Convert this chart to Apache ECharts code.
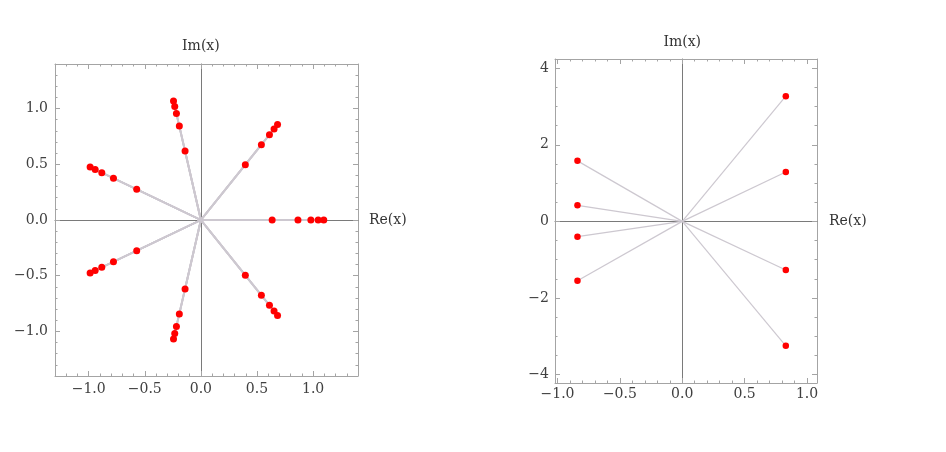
<!DOCTYPE html>
<html>
<head>
<meta charset="utf-8">
<script src="https://cdn.jsdelivr.net/npm/echarts@6/dist/echarts.min.js"></script>
<style>
  html, body { margin: 0; padding: 0; background: #ffffff; }
  #chart { width: 946px; height: 452px; }
</style>
</head>
<body>
<div id="chart"></div>
<script>
// ---- Data ----
// Left panel: 7 rays, 5 points each (complex numbers Re, Im)
const leftRe = [
  0.635, 0.865, 0.98, 1.045, 1.095,
  0.396, 0.539, 0.611, 0.652, 0.683,
  -0.141, -0.192, -0.218, -0.233, -0.244,
  -0.572, -0.779, -0.883, -0.942, -0.987,
  -0.572, -0.779, -0.883, -0.942, -0.987,
  -0.141, -0.192, -0.218, -0.233, -0.244,
  0.396, 0.539, 0.611, 0.652, 0.683
];
const leftIm = [
  0, 0, 0, 0, 0,
  0.496, 0.676, 0.766, 0.817, 0.856,
  0.619, 0.843, 0.955, 1.019, 1.068,
  0.276, 0.375, 0.425, 0.453, 0.475,
  -0.276, -0.375, -0.425, -0.453, -0.475,
  -0.619, -0.843, -0.955, -1.019, -1.068,
  -0.496, -0.676, -0.766, -0.817, -0.856
];
// Right panel: 8 points
const rightRe = [0.83, 0.83, 0.83, 0.83, -0.84, -0.84, -0.84, -0.84];
const rightIm = [3.27, 1.29, -1.27, -3.25, 1.58, 0.42, -0.40, -1.55];

// Axis ranges and ticks
const leftXRange = [-1.3, 1.4];
const leftYRange = [-1.4, 1.4];
const leftXMajor = [-1, -0.5, 0, 0.5, 1];
const leftXMinor = [-1.2, -1.1, -0.9, -0.8, -0.7, -0.6, -0.4, -0.3, -0.2, -0.1,
  0.1, 0.2, 0.3, 0.4, 0.6, 0.7, 0.8, 0.9, 1.1, 1.2, 1.3];
const leftYMajor = [-1, -0.5, 0, 0.5, 1];
const leftYMinor = [-1.3, -1.2, -1.1, -0.9, -0.8, -0.7, -0.6, -0.4, -0.3, -0.2, -0.1,
  0.1, 0.2, 0.3, 0.4, 0.6, 0.7, 0.8, 0.9, 1.1, 1.2, 1.3];

const rightXRange = [-1.02, 1.08];
const rightYRange = [-4.22, 4.24];
const rightXMajor = [-1, -0.5, 0, 0.5, 1];
const rightXMinor = [-0.9, -0.8, -0.7, -0.6, -0.4, -0.3, -0.2, -0.1,
  0.1, 0.2, 0.3, 0.4, 0.6, 0.7, 0.8, 0.9];
const rightYMajor = [-4, -2, 0, 2, 4];
const rightYMinor = [-3.5, -3, -2.5, -1.5, -1, -0.5, 0.5, 1, 1.5, 2.5, 3, 3.5];

const xName = 'Re(x)';
const yName = 'Im(x)';

// ---- Styling ----
const FONT = 'DejaVu Serif';
const FRAME = '#a4a4a4';
const ORIGIN = '#7a7a7a';
const TXT = '#404040';
const RAY = '#cdc8d0';
const DOT = '#ff0000';

function fmt1(v) { return (v < 0 ? '\u2212' : '') + Math.abs(v).toFixed(1); }
function fmt0(v) { return (v < 0 ? '\u2212' : '') + Math.abs(v).toFixed(0); }

function buildAxes(dim, grid, range, major, minor, fmt, margin, name, nameGap) {
  const isX = dim === 'x';
  const posA = isX ? 'bottom' : 'left';
  const posB = isX ? 'top' : 'right';
  const base = { gridIndex: grid, type: 'value', min: range[0], max: range[1], splitLine: { show: false } };
  const tickMajor = { show: true, inside: true, length: 5, customValues: major, lineStyle: { color: FRAME, width: 1 } };
  const tickMinor = { show: true, inside: true, length: 2.5, customValues: minor, lineStyle: { color: FRAME, width: 1 } };
  return [
    Object.assign({}, base, {
      position: posA,
      axisLine: { show: true, onZero: false, lineStyle: { color: FRAME, width: 1 } },
      axisTick: tickMajor,
      axisLabel: { show: true, customValues: major, formatter: fmt, margin: margin, color: TXT, fontFamily: FONT, fontSize: 14 }
    }),
    Object.assign({}, base, {
      position: posA,
      axisLine: { show: false, onZero: false },
      axisTick: tickMinor,
      axisLabel: { show: false }
    }),
    Object.assign({}, base, {
      position: posB,
      axisLine: { show: true, onZero: false, lineStyle: { color: FRAME, width: 1 } },
      axisTick: tickMajor,
      axisLabel: { show: false }
    }),
    Object.assign({}, base, {
      position: posB,
      axisLine: { show: false, onZero: false },
      axisTick: tickMinor,
      axisLabel: { show: false }
    }),
    Object.assign({}, base, {
      position: posA,
      axisLine: { show: true, onZero: true, lineStyle: { color: ORIGIN, width: 1 } },
      axisTick: { show: false },
      axisLabel: { show: false },
      name: name,
      nameLocation: 'end',
      nameGap: nameGap,
      nameTextStyle: { color: '#333', fontFamily: FONT, fontSize: 14 }
    })
  ];
}

function pts(re, im) { return re.map((r, i) => [r, im[i]]); }
function rays(re, im) { return re.map((r, i) => ({ coords: [[0, 0], [r, im[i]]] })); }

const xAxes = [].concat(
  buildAxes('x', 0, leftXRange, leftXMajor, leftXMinor, fmt1, 6, xName, 11),
  buildAxes('x', 1, rightXRange, rightXMajor, rightXMinor, fmt1, 4, xName, 12)
);
const yAxes = [].concat(
  buildAxes('y', 0, leftYRange, leftYMajor, leftYMinor, fmt1, 7, yName, 11),
  buildAxes('y', 1, rightYRange, rightYMajor, rightYMinor, fmt0, 6, yName, 10)
);

const option = {
  backgroundColor: '#ffffff',
  animation: false,
  grid: [
    { left: 55, top: 64, width: 303, height: 312, containLabel: false },
    { left: 555, top: 59, width: 262, height: 324, containLabel: false }
  ],
  xAxis: xAxes,
  yAxis: yAxes,
  series: [
    {
      type: 'lines', coordinateSystem: 'cartesian2d', xAxisIndex: 0, yAxisIndex: 0,
      data: rays(leftRe, leftIm), silent: true,
      lineStyle: { color: RAY, width: 1.8, opacity: 1, curveness: 0 }
    },
    {
      type: 'scatter', xAxisIndex: 0, yAxisIndex: 0,
      data: pts(leftRe, leftIm), symbol: 'circle', symbolSize: 7,
      itemStyle: { color: DOT, opacity: 1 }
    },
    {
      type: 'lines', coordinateSystem: 'cartesian2d', xAxisIndex: 5, yAxisIndex: 5,
      data: rays(rightRe, rightIm), silent: true,
      lineStyle: { color: RAY, width: 1.2, opacity: 1, curveness: 0 }
    },
    {
      type: 'scatter', xAxisIndex: 5, yAxisIndex: 5,
      data: pts(rightRe, rightIm), symbol: 'circle', symbolSize: 6.5,
      itemStyle: { color: DOT, opacity: 1 }
    }
  ]
};

const chart = echarts.init(document.getElementById('chart'), null, { renderer: 'canvas' });
chart.setOption(option);
</script>
</body>
</html>
